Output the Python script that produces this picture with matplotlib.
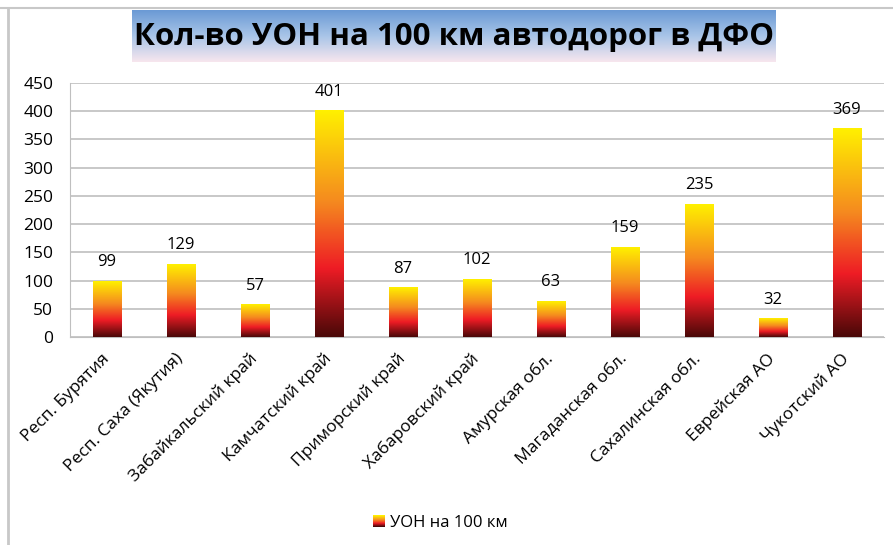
import matplotlib.pyplot as plt
import numpy as np
from matplotlib.colors import LinearSegmentedColormap
from matplotlib.patches import Rectangle
from matplotlib.legend_handler import HandlerBase
from matplotlib.lines import Line2D

plt.rcParams['font.family'] = ['Open Sans', 'DejaVu Sans']

regions = ['Респ. Бурятия', 'Респ. Саха (Якутия)', 'Забайкальский край',
           'Камчатский край', 'Приморский край', 'Хабаровский край',
           'Амурская обл.', 'Магаданская обл.', 'Сахалинская обл.',
           'Еврейская АО', 'Чукотский АО']
values = [99, 129, 57, 401, 87, 102, 63, 159, 235, 32, 369]
series_name = 'УОН на 100 км'
title = 'Кол-во УОН на 100 км автодорог в ДФО'

bar_cmap = LinearSegmentedColormap.from_list(
    'fire', [(0.0, '#4a0808'), (0.3, '#ee1c25'), (0.6, '#f58a1f'), (1.0, '#fff000')])
title_cmap = LinearSegmentedColormap.from_list(
    'sky', [(0.0, '#f7e6ee'), (0.5, '#a9c5e8'), (1.0, '#6b9ad5')])

fig = plt.figure(figsize=(8.93, 5.45), dpi=100)

# outer frame lines (top and left)
fig.add_artist(Line2D([0, 1], [1 - 8 / 545] * 2, color='#c8c8c8', lw=1.5))
fig.add_artist(Line2D([8 / 893] * 2, [0, 1 - 8 / 545], color='#c8c8c8', lw=2))

# title box with gradient
tax = fig.add_axes([132 / 893, 1 - 62 / 545, 644 / 893, 52 / 545])
tax.imshow(np.linspace(0, 1, 64).reshape(-1, 1), cmap=title_cmap, aspect='auto',
           origin='lower', extent=(0, 1, 0, 1))
tax.set_axis_off()
tax.text(0.5, 0.48, title, ha='center', va='center', fontsize=22.5, fontweight='bold',
         color='black', transform=tax.transAxes)

ax = fig.add_axes([70 / 893, 1 - 337 / 545, 814 / 893, 254 / 545])
x = np.arange(len(values))
width = 0.39
bars = ax.bar(x, values, width, color='none')
grad = np.linspace(0, 1, 128).reshape(-1, 1)
for b in bars:
    x0, w, h = b.get_x(), b.get_width(), b.get_height()
    ax.imshow(grad, cmap=bar_cmap, aspect='auto', origin='lower',
              extent=(x0, x0 + w, 0, h), zorder=3)
for xi, v in zip(x, values):
    ax.annotate(str(v), (xi, v), xytext=(0, 8), textcoords='offset points',
                ha='center', va='bottom', fontsize=12)

ax.set_xlim(-0.5, len(values) - 0.5)
ax.set_ylim(0, 450)
ax.set_yticks(np.arange(0, 451, 50))
ax.grid(axis='y', color='#bfbfbf', lw=1.2, zorder=0)
ax.set_axisbelow(True)
for s in ['top', 'right']:
    ax.spines[s].set_visible(False)
ax.spines['left'].set_color('#bfbfbf')
ax.spines['bottom'].set_color('#bfbfbf')
ax.tick_params(axis='both', length=0, labelsize=12.5)
ax.tick_params(axis='y', pad=12)
ax.set_xticks(x)
ax.set_xticklabels(regions, rotation=45, ha='right', va='center',
                   rotation_mode='anchor', fontsize=12.5)
ax.tick_params(axis='x', pad=14)


class GradientHandler(HandlerBase):
    def create_artists(self, legend, orig, xd, yd, w, h, fontsize, trans):
        n = 12
        side = h * 1.0
        x0 = xd + (w - side) / 2
        return [Rectangle((x0, yd + i * side / n), side, side / n + 0.2,
                          color=bar_cmap(i / (n - 1)), transform=trans, lw=0)
                for i in range(n)]


proxy = Rectangle((0, 0), 1, 1)
fig.legend([proxy], [series_name], handler_map={Rectangle: GradientHandler()},
           loc='center', bbox_to_anchor=(440 / 893, 1 - 523 / 545), frameon=False,
           fontsize=12, handlelength=0.8, handletextpad=0.3)

fig.savefig('out.png', dpi=100)
